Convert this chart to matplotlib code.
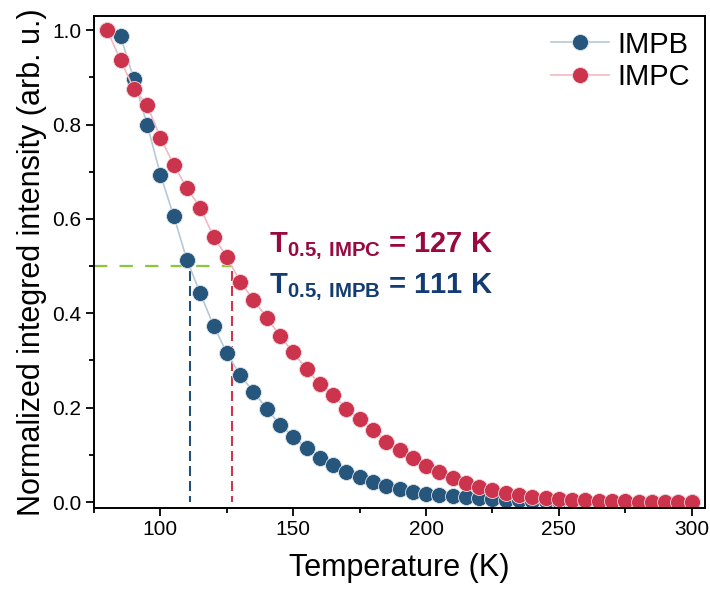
import numpy as np
import matplotlib
matplotlib.use("Agg")
import matplotlib.pyplot as plt
from matplotlib.ticker import MultipleLocator, FormatStrFormatter

plt.rcParams['font.family'] = ['Liberation Sans', 'DejaVu Sans']
plt.rcParams['mathtext.fontset'] = 'custom'
plt.rcParams['mathtext.rm'] = 'Liberation Sans'
plt.rcParams['mathtext.bf'] = 'Liberation Sans:bold'

# temperatures (K)
temperature = list(range(80, 305, 5))

# normalized integrated intensity
impb = [1.000, 0.987, 0.896, 0.800, 0.694, 0.606, 0.513, 0.442, 0.374, 0.316,
        0.269, 0.234, 0.198, 0.164, 0.138, 0.115, 0.094, 0.078, 0.064, 0.054,
        0.043, 0.035, 0.028, 0.022, 0.018, 0.015, 0.013, 0.010, 0.008, 0.006,
        0.005, 0.004, 0.003, 0.003, 0.002, 0.002, 0.002, 0.001, 0.001, 0.001,
        0.001, 0.001, 0.000, 0.000, 0.000]
impc = [1.000, 0.936, 0.876, 0.841, 0.772, 0.715, 0.665, 0.624, 0.562, 0.520,
        0.467, 0.429, 0.391, 0.352, 0.317, 0.282, 0.250, 0.226, 0.198, 0.176,
        0.153, 0.128, 0.110, 0.094, 0.077, 0.064, 0.052, 0.041, 0.032, 0.025,
        0.020, 0.016, 0.011, 0.009, 0.007, 0.005, 0.004, 0.003, 0.002, 0.002,
        0.001, 0.001, 0.001, 0.000, 0.000]

t_half_impb = 111
t_half_impc = 127

fig = plt.figure(figsize=(7.10, 5.93), dpi=100)
ax = fig.add_axes([0.1324, 0.1438, 0.8606, 0.8292])

# guide lines at half intensity
ax.plot([75, t_half_impc], [0.5, 0.5], color='#8cc63e', lw=1.6, dashes=(6, 5.5))
ax.plot([t_half_impb, t_half_impb], [0.49, 0.0], color='#23507a', lw=1.5, dashes=(4.8, 2.4))
ax.plot([t_half_impc, t_half_impc], [0.49, 0.0], color='#d0344f', lw=1.5, dashes=(4.8, 2.4))

ax.plot(temperature, impb, '-o', color='#b7c8d6', lw=1.2, ms=11.5,
        mfc='#27567c', mec='#dbe4ec', mew=0.6, label='IMPB')
ax.plot(temperature, impc, '-o', color='#f1b9c2', lw=1.2, ms=11.5,
        mfc='#cc344e', mec='#f4d5da', mew=0.6, label='IMPC')

ax.text(141, 0.530, r'$\mathbf{T}_{\mathbf{0.5,\,IMPC}}$ = 127 K', color='#99083f',
        fontsize=21, fontweight='bold')
ax.text(141, 0.443, r'$\mathbf{T}_{\mathbf{0.5,\,IMPB}}$ = 111 K', color='#133c72',
        fontsize=21, fontweight='bold')

ax.set_xlim(75, 305)
ax.set_ylim(-0.012, 1.03)
ax.xaxis.set_major_locator(MultipleLocator(50))
ax.xaxis.set_minor_locator(MultipleLocator(25))
ax.yaxis.set_major_locator(MultipleLocator(0.2))
ax.yaxis.set_minor_locator(MultipleLocator(0.1))
ax.yaxis.set_major_formatter(FormatStrFormatter('%.1f'))
ax.tick_params(which='major', direction='out', length=6, width=1.3, labelsize=15, pad=3)
ax.tick_params(which='minor', direction='out', length=3.5, width=1.3)
for sp in ax.spines.values():
    sp.set_linewidth(1.4)

ax.set_xlabel('Temperature (K)', fontsize=22, labelpad=10)
ax.set_ylabel('Normalized integred intensity (arb. u.)', fontsize=22, labelpad=4)

ax.legend(loc='upper right', frameon=False, fontsize=21, handlelength=2.0,
          handletextpad=0.3, labelspacing=0.15, borderaxespad=0.1)

fig.savefig('out.png', dpi=100)
